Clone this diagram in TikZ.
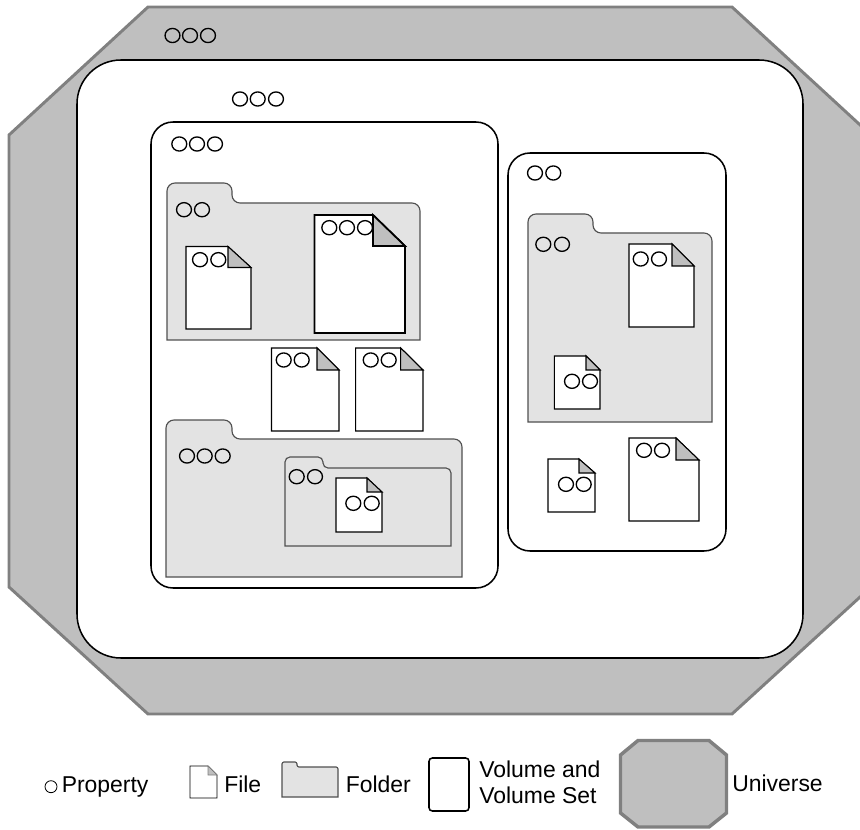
\documentclass[tikz,border=0pt]{standalone}
\usepackage{fontspec}
\setmainfont{Liberation Sans}
\definecolor{univfill}{HTML}{BFBFBF}
\definecolor{univline}{HTML}{808080}
\definecolor{foldfill}{HTML}{E3E3E3}
\definecolor{foldline}{HTML}{505050}
\tikzset{
  universe/.style={fill=univfill,draw=univline,line width=2.2pt,line join=miter},
  volbox/.style={fill=white,draw=black,line width=1.15pt},
  folderbox/.style={fill=foldfill,draw=foldline,line width=.85pt},
  docbody/.style={fill=white,draw=black,line width=.8pt,line join=miter},
  docfold/.style={fill=univfill,draw=black,line width=.8pt,line join=miter},
  thickdoc/.style={line width=1.3pt},
  prop/.style={fill=none,draw=black,line width=1pt},
  legendtext/.style={anchor=base west,inner sep=0pt,font=\fontsize{17.2}{20}\selectfont},
}
% #1 left #2 tab top #3 body top #4 right #5 bottom #6 tab right #7 radius
\newcommand{\folderat}[7]{%
  \draw[folderbox] (#1,#5) -- (#1,#2+#7)
    .. controls (#1,#2+.45*#7) and (#1+.45*#7,#2) .. (#1+#7,#2)
    -- (#6-#7,#2)
    .. controls (#6-.45*#7,#2) and (#6,#2+.45*#7) .. (#6,#2+#7)
    -- (#6,#3-#7)
    .. controls (#6,#3-.45*#7) and (#6+.45*#7,#3) .. (#6+#7,#3)
    -- (#4-#7,#3)
    .. controls (#4-.45*#7,#3) and (#4,#3+.45*#7) .. (#4,#3+#7)
    -- (#4,#5) -- cycle;}
% [style] #2 left #3 top #4 right #5 bottom #6 fold x #7 fold y
\newcommand{\docbody}[7][]{%
  \draw[docbody,#1] (#2,#3) -- (#6,#3) -- (#4,#7) -- (#4,#5) -- (#2,#5) -- cycle;}
\newcommand{\docfold}[7][]{%
  \draw[docfold,#1] (#6,#3) -- (#4,#7) -- (#6,#7) -- cycle;}
\newcommand{\docat}[7][]{\docbody[#1]{#2}{#3}{#4}{#5}{#6}{#7}\docfold[#1]{#2}{#3}{#4}{#5}{#6}{#7}}
\newcommand{\propsat}[2]{\foreach \px in {#1} {\draw[prop] (\px,#2) ellipse[x radius=5.6pt,y radius=5.3pt];}}
\begin{document}
\begin{tikzpicture}[x=.75pt,y=-.75pt]
\useasboundingbox (0,0) rectangle (860,830);
\clip (0,0) rectangle (860,830);
\fill[white] (0,0) rectangle (860,830);
% universe
\draw[universe] (148,7) -- (732,7) -- (871,135) -- (871,587) -- (732,714) -- (148,714) -- (9,587) -- (9,135) -- cycle;
\propsat{172.5,190,208}{35.5}
% universe interior
\draw[volbox,rounded corners=33pt] (77,60) rectangle (803,658);
\propsat{240,257.7,276}{99}
% left volume
\draw[volbox,rounded corners=16.5pt] (151,122) rectangle (498,588);
\propsat{179.3,197,215}{144}
% folder 1
\folderat{167}{183}{203}{420}{340}{232}{8}
\propsat{184,202}{209.7}
\docat{186}{246.5}{251}{329}{228}{267.5}
\propsat{200,218.3}{259.7}
\docbody[thickdoc]{314.5}{215}{405}{333}{373}{246}
\propsat{329.3,347,365}{227.7}
\docfold[thickdoc]{314.5}{215}{405}{333}{373}{246}
% loose files
\docat{271.5}{348}{339}{431}{317}{370}
\propsat{283.7,301.7}{360}
\docat{355.7}{348}{423}{431}{400.7}{370}
\propsat{370.7,388.7}{360}
% folder 2
\folderat{166}{420}{439}{462}{577}{232}{8}
\propsat{187,204.7,222.7}{456}
\folderat{285}{457}{468}{451}{546}{323}{5}
\propsat{296.7,315}{476.7}
\docat{336}{478}{382}{532}{367}{492}
\propsat{353.3,371.7}{503.3}
% right volume
\draw[volbox,rounded corners=16.5pt] (508,153) rectangle (726,551);
\propsat{535,553.3}{173}
\folderat{528}{214}{233}{712}{422}{593}{8}
\propsat{543.3,562}{244.3}
\docat{629}{244}{694}{327}{672}{266}
\propsat{640.7,659}{259}
\docat{554.3}{356}{600}{409}{586}{370}
\propsat{572,590}{381.3}
\docat{548}{459}{595}{512}{579}{473}
\propsat{566,583.7}{484.3}
\docat{629}{438}{699}{521}{676}{460}
\propsat{644,662}{450.3}
% legend
\draw[black,line width=.6pt] (51,786.7) circle[radius=4.5pt];
\node[legendtext] (lprop) at (61.5,792) {Property};
\docbody[line width=.6pt]{190}{766}{217}{798}{208}{775}
\docfold[line width=.4pt,draw=univline]{190}{766}{217}{798}{208}{775}
\node[legendtext] (lfile) at (224,792) {File};
\folderat{282}{762}{767}{338}{797}{297}{2}
\node[legendtext] (lfolder) at (345.5,792) {Folder};
\draw[volbox,rounded corners=2.5pt] (429,758) rectangle (469,811);
\node[legendtext] (lvola) at (479,777) {Volume and};
\node[legendtext] (lvolb) at (479,803) {Volume Set};
\draw[universe,line width=2.6pt] (638,740.5) -- (709,740.5) -- (726.5,755) -- (726.5,813) -- (709,827) -- (638,827) -- (620.5,813) -- (620.5,755) -- cycle;
\node[legendtext] (luniv) at (732,791) {Universe};
\end{tikzpicture}
\end{document}
